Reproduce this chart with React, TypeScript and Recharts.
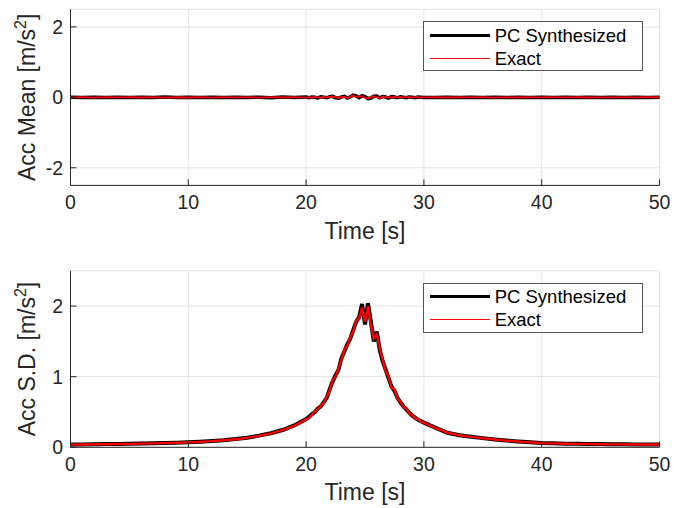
import React from "react";
import { LineChart, Line, XAxis, YAxis, CartesianGrid, Legend } from "recharts";

const FONT = '"Liberation Sans", Arial, Helvetica, sans-serif';
const AXIS = "#262626";
const GRID = "#e3e3e3";

// time samples [s]
const time = [
  0, 1, 2, 3, 4, 5, 6, 7, 8, 9, 10, 11, 12, 13, 14, 15, 16, 17, 18, 19, 20,
  20.25, 20.5, 20.75, 21, 21.25, 21.5, 21.75, 22, 22.25, 22.5, 22.75, 23, 23.25, 23.5, 23.75,
  24, 24.25, 24.5, 24.75, 25, 25.25, 25.5, 25.75, 26, 26.25, 26.5, 26.75, 27, 27.25, 27.5, 27.75,
  28, 28.25, 28.5, 28.75, 29, 29.25, 29.5, 29.75, 30,
  31, 32, 33, 34, 35, 36, 37, 38, 39, 40, 41, 42, 43, 44, 45, 46, 47, 48, 49, 50,
];

const pcMean = [
  0.005, -0.004, 0.006, -0.003, 0.004, -0.006, 0.003, -0.005, 0.007, -0.004, 0.002, -0.006, 0.005, -0.003, 0.006, -0.005, 0.004, -0.008, 0.007, -0.006, 0.01,
  -0.008, 0.012, 0.004, -0.015, 0.018, 0.006, -0.012, 0.02, 0.028, -0.01, -0.025, 0.015, 0.03, -0.02, 0.01,
  0.065, 0.04, -0.01, 0.045, 0.02, -0.035, -0.02, 0.03, 0.038, -0.015, 0.025, 0.01, -0.022, 0.02, 0.008, -0.012,
  0.018, 0.005, -0.01, 0.012, 0.004, -0.008, 0.01, 0.002, -0.006,
  -0.006, 0.005, -0.004, 0.006, -0.005, 0.003, -0.004, 0.005, -0.003, 0.004, -0.005, 0.003, -0.004, 0.002, -0.003, 0.004, -0.002, 0.003, -0.004, 0.002,
];

const exactMean = [
  -0.003, 0.004, -0.005, 0.004, -0.003, 0.005, -0.004, 0.006, -0.005, 0.003, -0.004, 0.005, -0.006, 0.004, -0.003, 0.006, -0.005, 0.007, -0.004, 0.006, -0.008,
  0.006, -0.01, 0.014, 0.002, -0.012, 0.02, -0.004, 0.012, 0.024, 0.004, -0.018, 0.022, 0.012, -0.024, 0.03,
  0.05, 0.012, 0.02, 0.036, -0.012, -0.028, 0.008, 0.034, 0.01, -0.02, 0.018, 0.022, -0.01, 0.008, 0.016, -0.008,
  0.012, -0.004, 0.008, 0.01, -0.006, 0.004, 0.008, -0.004, 0.002,
  0.005, -0.004, 0.006, -0.003, 0.004, -0.005, 0.003, -0.004, 0.005, -0.003, 0.004, -0.002, 0.003, -0.004, 0.002, -0.003, 0.004, -0.002, 0.003, -0.002,
];

const pcSd = [
  0.04, 0.041, 0.043, 0.045, 0.047, 0.05, 0.053, 0.056, 0.06, 0.065, 0.071, 0.078, 0.088, 0.1, 0.116, 0.136, 0.165, 0.2, 0.245, 0.31, 0.4,
  0.43, 0.47, 0.5, 0.55, 0.58, 0.64, 0.7, 0.82, 0.93, 1.02, 1.1, 1.26, 1.36, 1.46, 1.54,
  1.66, 1.78, 1.84, 2.03, 1.74, 2.04, 1.78, 1.5, 1.64, 1.38, 1.22, 1.1, 0.98, 0.86, 0.8, 0.7,
  0.64, 0.58, 0.54, 0.49, 0.45, 0.42, 0.39, 0.37, 0.35,
  0.275, 0.205, 0.172, 0.15, 0.13, 0.112, 0.096, 0.083, 0.072, 0.06, 0.056, 0.052, 0.049, 0.047, 0.045, 0.043, 0.042, 0.041, 0.04, 0.04,
];

const exactSd = [
  0.038, 0.04, 0.042, 0.044, 0.046, 0.049, 0.052, 0.055, 0.059, 0.064, 0.07, 0.077, 0.087, 0.099, 0.114, 0.134, 0.162, 0.198, 0.242, 0.305, 0.395,
  0.42, 0.46, 0.51, 0.54, 0.59, 0.63, 0.72, 0.8, 0.95, 1.0, 1.12, 1.24, 1.38, 1.44, 1.56,
  1.64, 1.8, 1.82, 1.98, 1.78, 2.0, 1.74, 1.54, 1.6, 1.4, 1.24, 1.08, 1.0, 0.84, 0.82, 0.69,
  0.65, 0.57, 0.55, 0.48, 0.46, 0.41, 0.4, 0.36, 0.35,
  0.27, 0.21, 0.17, 0.148, 0.128, 0.11, 0.094, 0.081, 0.071, 0.059, 0.055, 0.051, 0.048, 0.046, 0.044, 0.042, 0.041, 0.04, 0.039, 0.039,
];

const timeTicks = [0, 10, 20, 30, 40, 50];
const meanTicks = [-2, 0, 2];
const sdTicks = [0, 1, 2];
const seriesNames = ["PC Synthesized", "Exact"];
// legend sample widths (thinner than the noisy traces look in the plot)
const legendWidths: Record<string, number> = { "PC Synthesized": 3, Exact: 1 };

const meanData = time.map((t, i) => ({ t, pc: pcMean[i], exact: exactMean[i] }));
const sdData = time.map((t, i) => ({ t, pc: pcSd[i], exact: exactSd[i] }));

function YTitle({ prefix, x, y }: { prefix: string; x: number; y: number }) {
  return (
    <text
      transform={`translate(${x},${y}) rotate(-90)`}
      textAnchor="middle"
      fontFamily={FONT}
      fontSize={23}
      fill={AXIS}
    >
      {prefix}
      <tspan dy={-9} fontSize={16}>2</tspan>
      <tspan dy={9}>]</tspan>
    </text>
  );
}

function XTitle({ viewBox }: any) {
  const vb = viewBox || { x: 70.5, y: 185, width: 589 };
  return (
    <text x={vb.x + vb.width / 2} y={vb.y + 53.1} textAnchor="middle" fontFamily={FONT} fontSize={23} fill={AXIS}>
      Time [s]
    </text>
  );
}

function MatlabLegend({ payload }: any) {
  const items = seriesNames.map((n) => (payload || []).find((p: any) => p.value === n)).filter(Boolean);
  return (
    <div
      style={{
        position: "relative",
        width: 220,
        height: 50,
        boxSizing: "border-box",
        border: "1px solid #555",
        background: "#fff",
        fontFamily: FONT,
        fontSize: 18.5,
        color: "#000",
      }}
    >
      {items.map((entry: any, i: number) => (
        <div
          key={entry.value}
          style={{ position: "absolute", left: 0, top: 1.5 + i * 23, height: 23, display: "flex", alignItems: "center" }}
        >
          <svg width={66} height={23} style={{ display: "block" }}>
            <line x1={6} x2={66} y1={11.5} y2={11.5} stroke={entry.color} strokeWidth={legendWidths[entry.value]} />
          </svg>
          <span style={{ marginLeft: 5, lineHeight: "23px", whiteSpace: "nowrap" }}>{entry.value}</span>
        </div>
      ))}
    </div>
  );
}

interface PanelProps {
  data: { t: number; pc: number; exact: number }[];
  yDomain: [number, number];
  yTicks: number[];
  yPrefix: string;
  titleX: number;
  titleY: number;
  top: number;
  bottom: number;
  legendTop: number;
  pcWidth: number;
  exactWidth: number;
}

function Panel({ data, yDomain, yTicks, yPrefix, titleX, titleY, top, bottom, legendTop, pcWidth, exactWidth }: PanelProps) {
  const tickStyle = { fontSize: 19.5, fill: AXIS, fontFamily: FONT };
  return (
    <LineChart width={685} height={254} data={data} margin={{ top, right: 25.5, bottom, left: 0 }}>
      <CartesianGrid stroke={GRID} />
      <XAxis
        dataKey="t"
        type="number"
        domain={[0, 50]}
        ticks={timeTicks}
        height={30}
        tickSize={-6}
        tickMargin={15.6}
        tick={tickStyle}
        axisLine={{ stroke: AXIS }}
        tickLine={{ stroke: AXIS }}
        label={<XTitle />}
      />
      <XAxis
        xAxisId="top"
        orientation="top"
        dataKey="t"
        type="number"
        domain={[0, 50]}
        ticks={timeTicks}
        height={0}
        tickSize={-6}
        tick={false}
        axisLine={{ stroke: AXIS }}
        tickLine={{ stroke: AXIS }}
      />
      <YAxis
        type="number"
        domain={yDomain}
        ticks={yTicks}
        width={70.5}
        tickSize={-6}
        tickMargin={13.5}
        tick={tickStyle}
        axisLine={{ stroke: AXIS }}
        tickLine={{ stroke: AXIS }}
        allowDataOverflow
        label={<YTitle prefix={yPrefix} x={titleX} y={titleY} />}
      />
      <YAxis
        yAxisId="right"
        orientation="right"
        type="number"
        domain={yDomain}
        ticks={yTicks}
        width={0}
        tickSize={-6}
        tick={false}
        axisLine={{ stroke: AXIS }}
        tickLine={{ stroke: AXIS }}
      />
      <Legend
        layout="vertical"
        verticalAlign="middle"
        align="center"
        content={<MatlabLegend />}
        wrapperStyle={{ left: 422.7, top: legendTop, width: 220, height: 50 }}
      />
      <Line
        type="linear"
        dataKey="pc"
        name="PC Synthesized"
        stroke="#000000"
        strokeWidth={pcWidth}
        strokeLinejoin="miter"
        dot={false}
        isAnimationActive={false}
      />
      <Line
        type="linear"
        dataKey="exact"
        name="Exact"
        stroke="#ff0000"
        strokeWidth={exactWidth}
        dot={false}
        isAnimationActive={false}
      />
    </LineChart>
  );
}

export default function App() {
  return (
    <div style={{ position: "absolute", left: 0, top: 0, width: 685, height: 508, background: "#fff" }}>
      <div style={{ position: "absolute", left: 0, top: 0 }}>
        <Panel
          data={meanData}
          yDomain={[-2.5, 2.5]}
          yTicks={meanTicks}
          yPrefix="Acc Mean [m/s"
          titleX={36.5}
          titleY={108}
          top={9.3}
          bottom={38.6}
          legendTop={21.3}
          pcWidth={3.5}
          exactWidth={1.8}
        />
      </div>
      <div style={{ position: "absolute", left: 0, top: 254 }}>
        <Panel
          data={sdData}
          yDomain={[0, 2.5]}
          yTicks={sdTicks}
          yPrefix="Acc S.D. [m/s"
          titleX={43.3}
          titleY={111.5}
          top={16.8}
          bottom={30.7}
          legendTop={28.7}
          pcWidth={4}
          exactWidth={2.4}
        />
      </div>
    </div>
  );
}
